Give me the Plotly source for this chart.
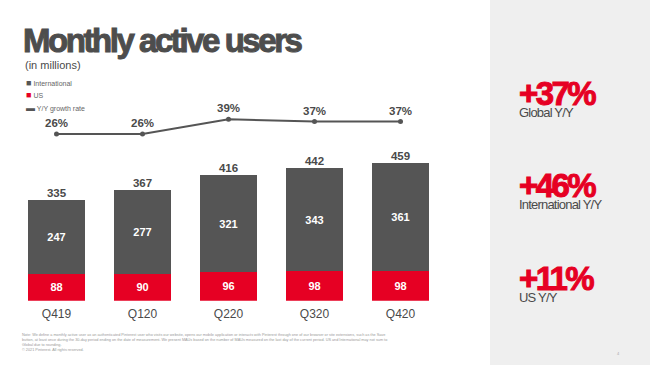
import plotly.graph_objects as go

quarters = ["Q419", "Q120", "Q220", "Q320", "Q420"]
us = [88, 90, 96, 98, 98]
international = [247, 277, 321, 343, 361]
totals = [335, 367, 416, 442, 459]
growth = [26, 26, 39, 37, 37]
growth_labels = ["26%", "26%", "39%", "37%", "37%"]
kpi_values = ["+37%", "+46%", "+11%"]
kpi_labels = ["Global Y/Y", "International Y/Y", "US Y/Y"]

RED = "#e60023"
DARK = "#555555"
TXT = "#4a4a4a"
FONT = "Liberation Sans, Arial, Helvetica, sans-serif"

W, H = 650, 365
def px(x):
    return x / W
def py(y):
    return 1 - y / H

x = list(range(len(quarters)))
k = 86.0
r0 = -56.5 / k
r1 = r0 + 490 / k

fig = go.Figure()
fig.add_trace(go.Bar(
    x=x, y=us, name="US", marker=dict(color=RED, line=dict(width=0)), width=0.663,
    text=[str(v) for v in us], textposition="inside", insidetextanchor="middle",
    textfont=dict(color="white", size=11, family=FONT, weight="bold"),
    hoverinfo="skip", showlegend=False,
))
fig.add_trace(go.Bar(
    x=x, y=international, name="International", marker=dict(color=DARK, line=dict(width=0)), width=0.663,
    text=[str(v) for v in international], textposition="inside", insidetextanchor="middle",
    textfont=dict(color="white", size=11, family=FONT, weight="bold"),
    hoverinfo="skip", showlegend=False,
))
fig.add_trace(go.Scatter(
    x=x, y=[a + b for a, b in zip(us, international)], mode="text",
    text=[str(t) for t in totals], textposition="top center",
    textfont=dict(color=TXT, size=11.5, family=FONT, weight="bold"),
    hoverinfo="skip", showlegend=False,
))
fig.add_trace(go.Scatter(
    x=x, y=growth, mode="lines+markers+text", yaxis="y2",
    line=dict(color=DARK, width=2), marker=dict(color=DARK, size=5),
    text=growth_labels, textposition="top center",
    textfont=dict(color=TXT, size=11.5, family=FONT, weight="bold"),
    hoverinfo="skip", showlegend=False,
))

fig.update_layout(
    width=W, height=H, margin=dict(l=0, r=0, t=0, b=0),
    paper_bgcolor="white", plot_bgcolor="rgba(0,0,0,0)",
    barmode="stack", showlegend=False,
    font=dict(family=FONT, color=TXT),
    xaxis=dict(domain=[0, 490 / W], range=[r0, r1], tickmode="array", tickvals=x,
               ticktext=quarters, showgrid=False, zeroline=False, showline=False,
               ticks="", tickfont=dict(size=12, color=TXT, family=FONT), ticklabelstandoff=4),
    yaxis=dict(domain=[py(300.7), py(100)], range=[0, 667], visible=False),
    yaxis2=dict(domain=[py(300.7), py(100)], range=[-121.5, 56.1], overlaying="y", visible=False),
)

shapes = [dict(type="rect", xref="paper", yref="paper", x0=px(490), x1=1, y0=0, y1=1,
               fillcolor="#efefef", line=dict(width=0), layer="below")]
fig.update_layout(shapes=shapes)

ann = []
ann.append(dict(x=px(21), y=py(40), xref="paper", yref="paper", xanchor="left", yanchor="middle",
                text='<span style="letter-spacing:-2.45px;stroke:#4d4d4d;stroke-width:1px">Monthly active users</span>',
                showarrow=False, font=dict(size=33, color="#4d4d4d", family=FONT, weight=900)))
ann.append(dict(x=px(23), y=py(65), xref="paper", yref="paper", xanchor="left", yanchor="middle",
                text="(in millions)", showarrow=False, font=dict(size=11, color=TXT, family=FONT)))
legend_items = [("■", DARK, "International", 83), ("■", RED, "US", 95), ("▬", DARK, "Y/Y growth rate", 108)]
for sym, col, lab, yy in legend_items:
    ann.append(dict(x=px(24), y=py(yy), xref="paper", yref="paper", xanchor="left", yanchor="middle",
                    text=f'<span style="color:{col};font-size:9px">{sym}</span> {lab}', showarrow=False,
                    font=dict(size=7, color="#666666", family=FONT)))

kpi_y = [122, 214, 307]
for big, small, yb in zip(kpi_values, kpi_labels, kpi_y):
    txt = (f'<b><span style="font-size:33px;color:{RED};letter-spacing:-2.6px;stroke:{RED};stroke-width:1px">{big}</span></b><br>'
           f'<span style="font-size:13px;letter-spacing:-0.8px">{small}</span>')
    ann.append(dict(x=px(517), y=py(yb), xref="paper", yref="paper", xanchor="left", yanchor="bottom",
                    align="left", text=txt, showarrow=False,
                    font=dict(size=9, color=TXT, family=FONT)))

note = ("Note: We define a monthly active user as an authenticated Pinterest user who visits our website, opens our mobile application or interacts with Pinterest through one of our browser or site extensions, such as the Save<br>"
        "button, at least once during the 30-day period ending on the date of measurement. We present MAUs based on the number of MAUs measured on the last day of the current period. US and International may not sum to<br>"
        "Global due to rounding.<br>"
        "© 2021 Pinterest. All rights reserved.")
ann.append(dict(x=px(20), y=py(331), xref="paper", yref="paper", xanchor="left", yanchor="top", align="left",
                text=note, showarrow=False, font=dict(size=3.8, color="#9a9a9a", family=FONT)))
ann.append(dict(x=px(618), y=py(353), xref="paper", yref="paper", xanchor="center", yanchor="middle",
                text="4", showarrow=False, font=dict(size=4, color="#aaaaaa", family=FONT)))
fig.update_layout(annotations=ann)

fig.write_html("out.html", config={"displayModeBar": False},
               post_script="document.body.style.margin='0';document.body.style.overflow='hidden';")
